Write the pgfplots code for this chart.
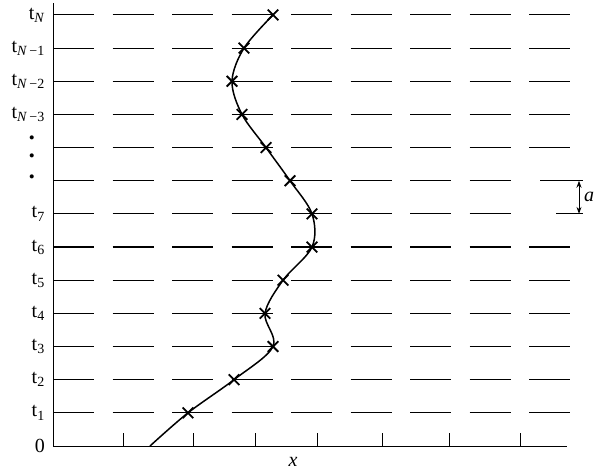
\documentclass[border=0pt]{standalone}
\usepackage{fontspec}
\setmainfont{Liberation Serif}
\usepackage{pgfplots}
\pgfplotsset{compat=1.18}
\usetikzlibrary{arrows.meta}
\begin{document}
\fontsize{20}{24}\selectfont
\begin{tikzpicture}
\begin{axis}[
  scale only axis, width=514pt, height=443pt,
  xmin=0, xmax=514, ymin=0, ymax=13.36,
  axis lines=left, axis line style={-, line width=1pt},
  clip=false,
  xtick={70,140,202,264,329,396,467}, xticklabels={},
  tick align=inside, major tick length=13pt,
  x tick style={line width=1pt, black},
  ytick={0,1,2,3,4,5,6,7,10,11,12,13},
  yticklabels={0, t\textsubscript{1}, t\textsubscript{2}, t\textsubscript{3}, t\textsubscript{4}, t\textsubscript{5}, t\textsubscript{6}, t\textsubscript{7}, t\textsubscript{\textit{N}\,−3}, t\textsubscript{\textit{N}\,−2}, t\textsubscript{\textit{N}\,−1}, t\textsubscript{\textit{N}}},
  y tick style={draw=none},
  yticklabel style={inner sep=0pt, xshift=-8pt, font=\fontsize{20}{24}\selectfont},
  extra y ticks={8.05,8.69,9.23},
  extra y tick labels={\textbullet,\textbullet,\textbullet},
  extra y tick style={y tick style={draw=none}, yticklabel style={xshift=-10pt, inner sep=0pt, font=\fontsize{17}{17}\selectfont}},
  dl/.style={black, line width=1.1pt, dash pattern=on 41pt off 18.5pt},
]
\coordinate (o) at (axis cs:0,0);
% dashed time levels
\addplot[dl] coordinates {(0,1) (517,1)};
\addplot[dl] coordinates {(0,2) (517,2)};
\addplot[dl] coordinates {(0,3) (517,3)};
\addplot[dl] coordinates {(0,4) (517,4)};
\addplot[dl] coordinates {(0,5) (517,5)};
\addplot[dl] coordinates {(0,6) (517,6)};
\addplot[dl] coordinates {(0,7) (470,7)};
\addplot[black, line width=1.1pt] coordinates {(503,7) (530,7)};
\addplot[dl] coordinates {(0,8) (470,8)};
\addplot[black, line width=1.1pt] coordinates {(487,8) (530,8)};
\addplot[dl] coordinates {(0,9) (517,9)};
\addplot[dl] coordinates {(0,10) (517,10)};
\addplot[dl] coordinates {(0,11) (517,11)};
\addplot[dl] coordinates {(0,12) (517,12)};
\addplot[dl] coordinates {(0,13) (517,13)};
% path
\addplot[black, line width=1.5pt, smooth, tension=0.55] coordinates {
(97,0) (135,1) (181,2) (220,3) (212,4) (230,5) (259,6) (259,7) (237,8) (213,9) (189,10) (179,11) (191,12) (220,13)};
\addplot[black, only marks, mark=x, mark size=7.5pt, mark options={line width=1.8pt}] coordinates {
(135,1) (181,2) (220,3) (212,4) (230,5) (259,6) (259,7) (237,8) (213,9) (189,10) (179,11) (191,12) (220,13)};
\draw[line width=1pt, {Stealth[length=7pt,width=5pt]}-{Stealth[length=7pt,width=5pt]}] (axis cs:526,7) -- (axis cs:526,8);
\node[anchor=west, inner sep=0pt] at (axis cs:531,7.5) {\textit{a}};
\node[inner sep=0pt] at (axis cs:240,0) [yshift=-16pt] {\textit{x}};
\end{axis}
\pgfresetboundingbox
\path[use as bounding box] ([shift={(-53pt,-25pt)}]o) rectangle ([shift={(541pt,446pt)}]o);
\end{tikzpicture}
\end{document}
